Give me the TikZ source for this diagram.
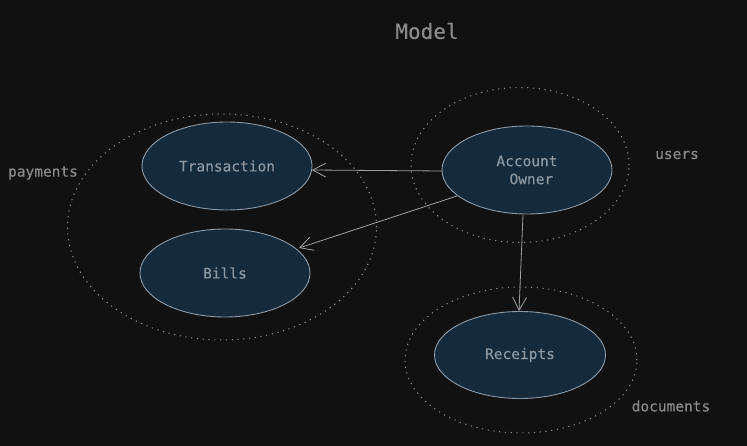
\documentclass[tikz,border=0pt]{standalone}
\usepackage{fontspec}
\setmonofont[FakeBold=0.35]{DejaVu Sans Mono}
\usetikzlibrary{arrows.meta,shapes.geometric}
\definecolor{bg}{HTML}{111111}
\definecolor{nodefill}{HTML}{152A3B}
\definecolor{nodeline}{HTML}{8A9AA8}
\definecolor{txt}{HTML}{8C98A2}
\definecolor{lbl}{HTML}{8A8A8A}
\definecolor{edge}{HTML}{A0A0A0}
\tikzset{
  entity/.style={ellipse, draw=nodeline, fill=nodefill, line width=0.9pt,
    minimum width=170pt, minimum height=88pt, inner sep=0pt,
    text=txt, font=\ttfamily\fontsize{14.5}{18}\selectfont, align=center},
  cluster/.style={ellipse, draw=lbl, line width=1pt, dash pattern=on 1.2pt off 4.6pt, inner sep=0pt},
  clabel/.style={text=lbl, font=\ttfamily\fontsize{14.5}{17}\selectfont},
  rel/.style={draw=edge, line width=0.8pt, -{Straight Barb[length=13pt,width=14pt,line width=0.8pt]}}
}
\begin{document}
\begin{tikzpicture}[x=1pt,y=-1pt]
\fill[bg] (0,0) rectangle (747,446);
\useasboundingbox (0,0) rectangle (747,446);
\node[cluster, minimum width=309pt, minimum height=226pt] (payc) at (222,227) {};
\node[cluster, minimum width=218pt, minimum height=155pt] (userc) at (520,165) {};
\node[cluster, minimum width=232pt, minimum height=146pt] (docc) at (521,360) {};
\node[entity] (trans) at (227,166) {Transaction};
\node[entity] (bills) at (225,273) {Bills};
\node[entity] (owner) at (527,170) {Account\\\hspace*{0.6em}Owner};
\node[entity, minimum width=171pt, minimum height=87pt] (rec) at (520,355) {Receipts};
\node[clabel, font=\ttfamily\fontsize{21}{24}\selectfont] (title) at (427,31) {Model};
\node[clabel] (paylbl) at (43,173) {payments};
\node[clabel] (userlbl) at (677,155) {users};
\node[clabel] (doclbl) at (671,406) {documents};
\coordinate (o1) at (442,171);
\coordinate (t1) at (312,170);
\coordinate (o2) at (457,196);
\coordinate (b1) at (299,248);
\coordinate (o3) at (523,215);
\coordinate (r1) at (519,311);
\draw[rel] (o1) -- (t1);
\draw[rel] (o2) -- (b1);
\draw[rel] (o3) -- (r1);
\end{tikzpicture}
\end{document}
